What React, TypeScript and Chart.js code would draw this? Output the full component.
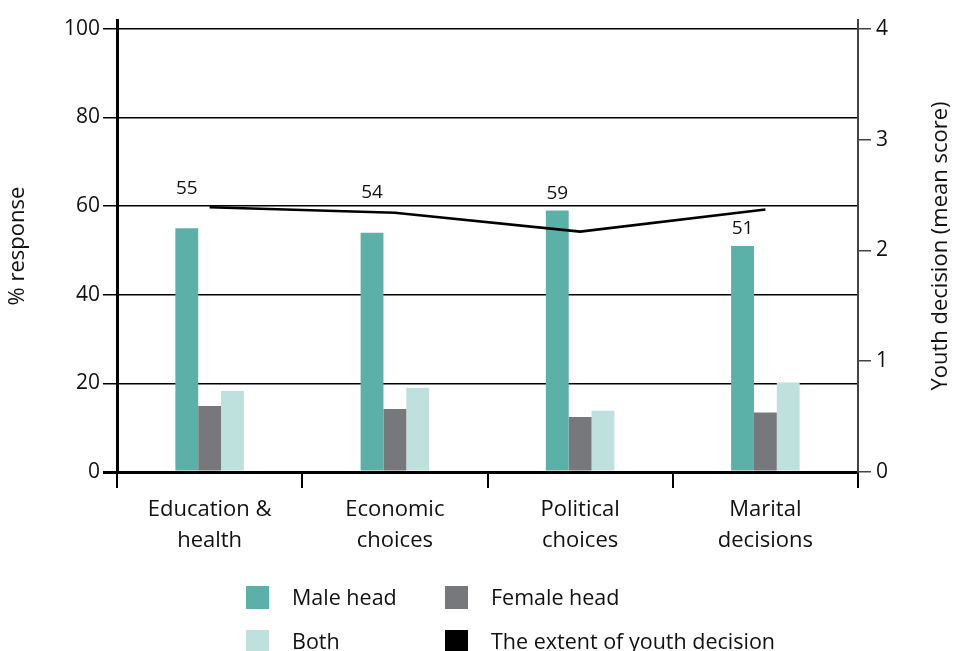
import React, { useEffect, useRef } from "react";
import { Chart, registerables } from "chart.js";

Chart.register(...registerables);

const categories: string[][] = [
  ["Education &", "health"],
  ["Economic", "choices"],
  ["Political", "choices"],
  ["Marital", "decisions"],
];
const maleHead = [55, 54, 59, 51];
const femaleHead = [14.9, 14.2, 12.4, 13.4];
const bothHeads = [18.3, 19.0, 13.8, 20.2];
const youthDecision = [2.39, 2.34, 2.17, 2.37];

const leftTickValues = [0, 20, 40, 60, 80, 100];
const rightTickValues = [0, 1, 2, 3, 4];

const leftTitle = "% response";
const rightTitle = "Youth decision (mean score)";

const COLORS = {
  male: "#5BB1A7",
  female: "#77787B",
  both: "#BFE1DD",
  line: "#000000",
};

const FONT = "'Open Sans', sans-serif";

const legendItems = [
  { label: "Male head", color: COLORS.male },
  { label: "Female head", color: COLORS.female },
  { label: "Both", color: COLORS.both },
  { label: "The extent of youth decision", color: COLORS.line },
];

const valueLabelPlugin = {
  id: "valueLabels",
  afterDatasetsDraw(chart: any) {
    const ctx = chart.ctx;
    const barMeta = chart.getDatasetMeta(0);
    const lineMeta = chart.getDatasetMeta(3);
    const pts = lineMeta.data.map((p: any) => ({ x: p.x, y: p.y }));
    const lineYAt = (x: number) => {
      if (x <= pts[0].x) return pts[0].y;
      for (let i = 0; i < pts.length - 1; i++) {
        if (x >= pts[i].x && x <= pts[i + 1].x) {
          const t = (x - pts[i].x) / (pts[i + 1].x - pts[i].x);
          return pts[i].y + t * (pts[i + 1].y - pts[i].y);
        }
      }
      return pts[pts.length - 1].y;
    };
    ctx.save();
    ctx.font = `19px ${FONT}`;
    ctx.fillStyle = "#111";
    ctx.textAlign = "center";
    ctx.textBaseline = "middle";
    barMeta.data.forEach((bar: any, i: number) => {
      const top = bar.y;
      const ly = lineYAt(bar.x);
      let cy = top - 17;
      if (ly > top - 28 && ly < top + 2) cy = ly - 19;
      ctx.fillText(String(maleHead[i]), bar.x, cy);
    });
    ctx.restore();
  },
};

const extrasPlugin = {
  id: "extras",
  afterDraw(chart: any) {
    const ctx = chart.ctx;
    const area = chart.chartArea;
    // right axis title, reading bottom-to-top
    ctx.save();
    ctx.font = `22px ${FONT}`;
    ctx.fillStyle = "#111";
    ctx.textAlign = "center";
    ctx.textBaseline = "middle";
    ctx.translate(chart.width - 12, (area.top + area.bottom) / 2);
    ctx.rotate(-Math.PI / 2);
    ctx.fillText(rightTitle, 0, 0);
    ctx.restore();

    // 2x2 legend
    const colX = [246, 445];
    const rowY = [586, 630];
    const box = 23;
    ctx.save();
    ctx.font = `21.5px ${FONT}`;
    ctx.textAlign = "left";
    ctx.textBaseline = "middle";
    legendItems.forEach((item, i) => {
      const x = colX[i % 2];
      const y = rowY[Math.floor(i / 2)];
      ctx.fillStyle = item.color;
      ctx.fillRect(x, y, box, box);
      ctx.fillStyle = "#111";
      ctx.fillText(item.label, x + 46, y + box / 2 + 1);
    });
    ctx.restore();
  },
};

export default function App() {
  const canvasRef = useRef<HTMLCanvasElement | null>(null);

  useEffect(() => {
    if (!canvasRef.current) return;
    Chart.defaults.font.family = FONT;
    const chart = new Chart(canvasRef.current, {
      type: "bar",
      data: {
        labels: categories,
        datasets: [
          {
            label: "Male head",
            data: maleHead,
            backgroundColor: COLORS.male,
            yAxisID: "y",
            order: 1,
          },
          {
            label: "Female head",
            data: femaleHead,
            backgroundColor: COLORS.female,
            yAxisID: "y",
            order: 1,
          },
          {
            label: "Both",
            data: bothHeads,
            backgroundColor: COLORS.both,
            yAxisID: "y",
            order: 1,
          },
          {
            type: "line",
            label: "The extent of youth decision",
            data: youthDecision,
            borderColor: COLORS.line,
            backgroundColor: COLORS.line,
            borderWidth: 2.6,
            pointRadius: 0,
            tension: 0,
            yAxisID: "y1",
            order: 0,
          } as any,
        ],
      },
      options: {
        responsive: false,
        animation: false,
        devicePixelRatio: 1,
        datasets: {
          bar: { barPercentage: 1, categoryPercentage: 0.37 },
        },
        layout: { padding: { top: 20, left: 0, right: 0, bottom: 0 } },
        plugins: {
          legend: { display: false },
          tooltip: { enabled: false },
        },
        scales: {
          x: {
            offset: true,
            grid: {
              offset: true,
              drawOnChartArea: false,
              drawTicks: true,
              tickLength: 16,
              color: "#000",
              lineWidth: 2,
            },
            border: { display: true, color: "#000", width: 3 },
            ticks: {
              color: "#111",
              padding: 6,
              font: { size: 22, lineHeight: 1.41 },
              maxRotation: 0,
              autoSkip: false,
            },
            afterFit(scale: any) {
              scale.height = 179;
            },
          },
          y: {
            position: "left",
            min: 0,
            max: 102,
            ticks: {
              stepSize: 20,
              color: "#111",
              padding: 3,
              font: { size: 21 },
            },
            afterBuildTicks(scale: any) {
              scale.ticks = leftTickValues.map((v) => ({ value: v }));
            },
            grid: {
              color: "#000",
              lineWidth: (c: any) => (c.tick && c.tick.value === 0 ? 3 : 1.5),
              drawTicks: true,
              tickLength: 14,
            },
            border: { display: true, color: "#000", width: 3 },
            title: {
              display: true,
              text: leftTitle,
              color: "#111",
              font: { size: 22 },
              padding: { top: 5, bottom: 0 },
            },
            afterFit(scale: any) {
              scale.width = 117;
            },
          },
          y1: {
            position: "right",
            min: 0,
            max: 4.08,
            ticks: {
              stepSize: 1,
              color: "#111",
              padding: 5,
              font: { size: 21 },
            },
            afterBuildTicks(scale: any) {
              scale.ticks = rightTickValues.map((v) => ({ value: v }));
            },
            grid: {
              drawOnChartArea: false,
              drawTicks: true,
              tickLength: 13,
              color: "#444",
              lineWidth: 1.5,
            },
            border: { display: true, color: "#444", width: 2 },
            title: { display: false },
            afterFit(scale: any) {
              scale.width = 95;
            },
          },
        },
      } as any,
      plugins: [valueLabelPlugin, extrasPlugin],
    });
    return () => chart.destroy();
  }, []);

  return (
    <div style={{ position: "absolute", left: 0, top: 0, width: 953, height: 651 }}>
      <canvas
        ref={canvasRef}
        width={953}
        height={651}
        style={{ display: "block", width: 953, height: 651 }}
      />
    </div>
  );
}
